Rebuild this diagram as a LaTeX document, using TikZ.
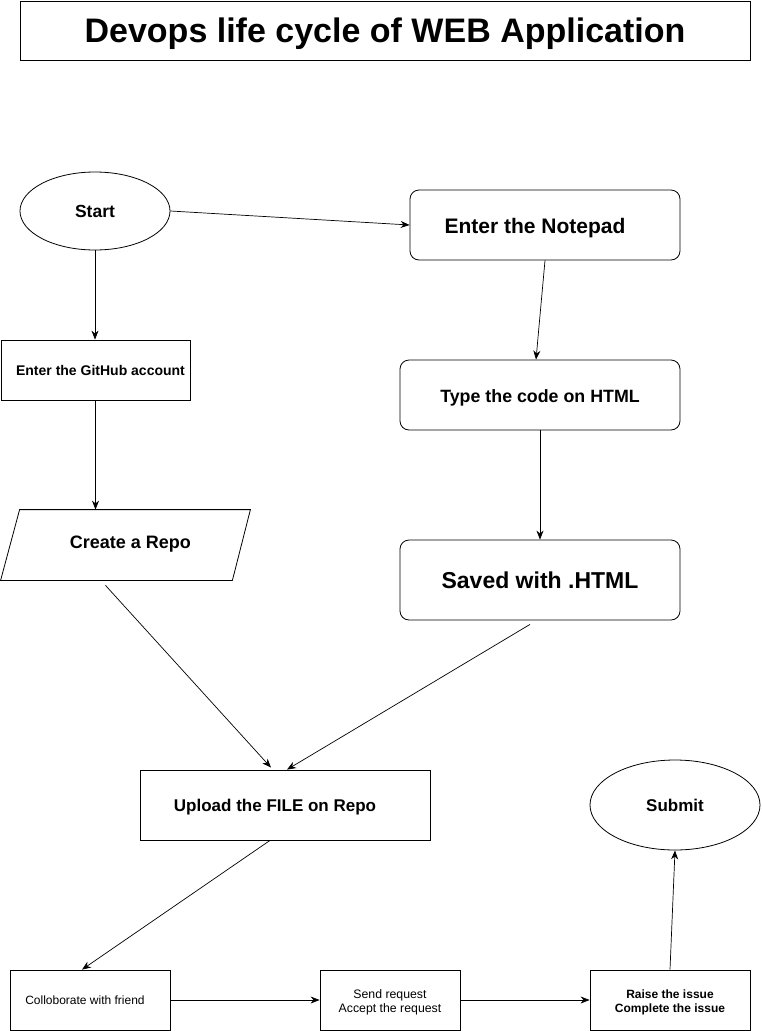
\documentclass[tikz,border=0pt]{standalone}
\usepackage{fontspec}
\setmainfont{Liberation Sans}
\usetikzlibrary{shapes.geometric,arrows.meta}
\tikzset{
  box/.style={draw, line width=0.8pt, inner sep=0pt, align=center},
  rbox/.style={box, rounded corners=9pt},
  oval/.style={draw, line width=0.8pt, ellipse, inner sep=0pt},
  conn/.style={draw, line width=0.7pt, -{Stealth[length=9pt,width=7pt]}},
}
\newcommand{\fsz}[1]{\fontsize{#1}{#1}\selectfont}
\newcommand{\lowr}[2]{\raisebox{-#1}[\height][\depth]{#2}}
\begin{document}
\begin{tikzpicture}[x=1pt,y=-1pt]
\useasboundingbox (0,0) rectangle (761,1031);
\node[box, minimum width=730pt, minimum height=59pt, font=\fsz{34}\bfseries] (title) at (385,30.5)
  {\lowr{3pt}{Devops life cycle of WEB Application}};
\node[oval, minimum width=150pt, minimum height=78pt, font=\fsz{17.5}\bfseries] (start) at (95,211)
  {Start};
\node[rbox, minimum width=270pt, minimum height=70pt, font=\fsz{21}\bfseries] (notepad) at (545,225)
  {\lowr{3pt}{Enter the Notepad}\hspace{20pt}};
\node[box, minimum width=189pt, minimum height=60pt, font=\fsz{14}\bfseries] (github) at (95.5,370)
  {\hspace{10pt}Enter the GitHub account};
\node[rbox, minimum width=280pt, minimum height=70pt, font=\fsz{17.8}\bfseries] (type) at (540,395)
  {\lowr{3pt}{Type the code on HTML}};
\node[box, draw=none, minimum width=249pt, minimum height=70pt, font=\fsz{18}\bfseries] (repo) at (125.5,545)
  {\hspace{10pt}\raisebox{6pt}{Create a Repo}};
\draw[line width=0.8pt] ([xshift=19pt]repo.north west) -- (repo.north east)
  -- ([xshift=-18pt]repo.south east) -- (repo.south west) -- cycle;
\node[rbox, minimum width=280pt, minimum height=80pt, font=\fsz{23}\bfseries] (saved) at (540,580)
  {Saved with .HTML};
\node[box, minimum width=290pt, minimum height=70pt, font=\fsz{17}\bfseries] (upload) at (285,805)
  {\lowr{2pt}{Upload the FILE on Repo}\hspace{20pt}};
\node[oval, minimum width=170pt, minimum height=90pt, font=\fsz{17}\bfseries] (submit) at (675,805)
  {Submit};
\node[box, minimum width=160pt, minimum height=60pt, font=\fsz{12}] (collab) at (90,1000)
  {Colloborate with friend\hspace{10pt}};
\node[box, minimum width=140pt, minimum height=60pt, font=\fsz{12.3}, align=center] (send) at (390,1000)
  {\rule{0pt}{14pt}Send request\\[2pt]Accept the request};
\node[box, minimum width=160pt, minimum height=60pt, font=\fsz{12}\bfseries, align=center] (raise) at (670,1000)
  {\rule{0pt}{14pt}Raise the issue\\[2pt]Complete the issue};

\path[conn] (start.east) -- (notepad.west);
\path[conn] (start.south) -- (github.north -| start.south);
\path[conn] (github.south) -- (github.south |- repo.north);
\path[conn] (notepad.south) -- ([xshift=-4pt]type.north);
\path[conn] (type.south) -- (saved.north);
\path[conn] ([xshift=-20pt,yshift=-5pt]repo.south) -- ([xshift=-14pt,yshift=2pt]upload.north);
\path[conn] ([xshift=-10pt,yshift=-4pt]saved.south) -- ([xshift=2pt]upload.north);
\path[conn] ([xshift=-15pt]upload.south) -- ([xshift=-8pt]collab.north);
\path[conn] (collab.east) -- (send.west);
\path[conn] (send.east) -- (raise.west);
\path[conn] (raise.north) -- (submit.south);
\end{tikzpicture}
\end{document}
